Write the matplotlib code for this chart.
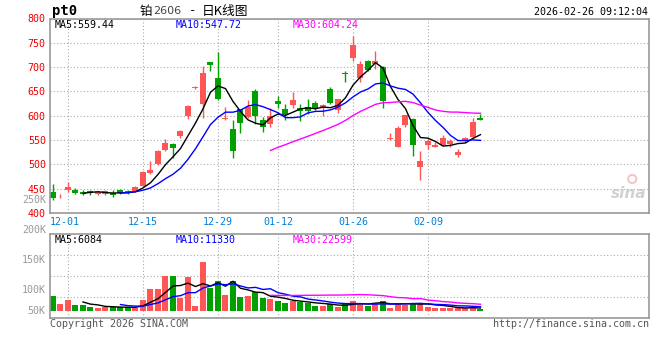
import numpy as np
import pandas as pd
import matplotlib
matplotlib.use('Agg')
import matplotlib.pyplot as plt

# daily candles, 2025-11-27 .. 2026-02-26 (58 trading days)
opens = [443, 436, 447, 448, 444, 445, 438.5, 440, 442, 446.5,
         446, 445, 456, 482, 500, 529.5, 542, 559, 599, 657.5,
         625, 711, 678, 593, 572.5, 613, 597.5, 650.5, 591.5, 584,
         630, 614.5, 622, 616.5, 618.5, 627, 616.5, 656, 611, 687.5,
         718.5, 678, 713, 706.5, 699.5, 552.5, 536.5, 581.5, 594, 495.5,
         540, 536.5, 540.5, 542, 520, 550, 555.5, 595.5]
highs = [460, 440, 464, 451, 447, 447, 445, 447, 447, 448.5,
         448, 455.5, 486, 506.5, 530, 552, 544, 570.5, 622, 661,
         702, 711.5, 731, 617, 591, 613.5, 631.5, 654, 597.5, 616.5,
         640.5, 623.5, 649, 625, 635, 631, 625, 659.5, 635, 691.5,
         763, 712, 715, 733.5, 703, 563.5, 578, 601, 594.5, 528,
         552, 545, 560, 552, 531.5, 555.5, 595, 603]
lows = [426, 430, 443, 440, 438, 438, 437, 438, 432, 438.5,
        440, 443, 455, 480.5, 498, 528, 513, 553.5, 593, 654,
        596, 693, 632, 591, 513, 565.5, 595, 582.5, 567.5, 576,
        616.5, 591, 616.5, 589.5, 603, 611, 600, 623.5, 606.5, 669,
        712, 669, 693, 696.5, 615.5, 550.5, 536, 577, 518, 467,
        531.5, 535, 538.5, 535, 514.5, 545, 554, 591.5]
closes = [430, 437, 453, 442, 440, 440.5, 443, 445, 436.5, 442,
          442, 453.5, 484, 489, 528, 543, 534, 569, 620.5, 659,
          688, 705, 634, 593.5, 527, 585, 618, 600, 576, 600,
          623.5, 604.5, 633, 610, 610, 614.5, 621.5, 627, 635, 686.5,
          744.5, 706.5, 695, 713.5, 630.5, 554, 574.5, 601, 540, 506.5,
          547.5, 540.5, 553.5, 547.5, 525, 553.5, 588, 591.5]
volumes_k = [90, 76.7, 83.3, 75, 75, 72.2, 70, 71.1, 72, 72.2,
             71, 69.4, 83.3, 101.7, 101.7, 123.3, 123.3, 87.2, 121.7, 73.3,
             147.2, 103.9, 115, 91.7, 115, 88.9, 90, 96.7, 87.2, 85,
             81.7, 78.9, 81.7, 80, 78.3, 73.9, 73.9, 76.1, 72.2, 76.7,
             81.7, 78.9, 73.9, 78.9, 81.7, 70.6, 78.9, 75, 78.9, 78.9,
             72.2, 70.6, 70.6, 70.6, 69.4, 69.4, 72.2, 68.3]

date_ticks = [2, 12, 22, 30, 40, 50]
date_labels = ['12-01', '12-15', '12-29', '01-12', '01-26', '02-09']
price_ticks = [400, 450, 500, 550, 600, 650, 700, 750, 800]
vol_tick_vals = [65, 100, 150, 200]
vol_tick_labels = ['50K', '100K', '150K', '200K']
price_ma_labels = ['MA5:559.44', 'MA10:547.72', 'MA30:604.24']
vol_ma_labels = ['MA5:6084', 'MA10:11330', 'MA30:22599']

RED = '#ff5555'
GREEN = '#00a000'
BORDER = '#999999'
MONO = 'DejaVu Sans Mono'
CJK = ['Noto Sans CJK SC', 'DejaVu Sans']
MA_COLORS = ['black', '#0000ff', '#ff00ff']

o = np.array(opens)
h = np.array(highs)
l = np.array(lows)
c = np.array(closes)
v = np.array(volumes_k)
x = np.arange(len(c))
cols = [RED if cc >= oo else GREEN for oo, cc in zip(o, c)]

W, H = 660, 360
fig = plt.figure(figsize=(6.6, 3.6), dpi=100)
fig.patch.set_facecolor('white')


def px_axes(left, top, right, bottom):
    return fig.add_axes([left / W, 1 - bottom / H, (right - left) / W, (bottom - top) / H])


def style(ax):
    for s in ax.spines.values():
        s.set_color(BORDER)
        s.set_linewidth(1.2)
    ax.tick_params(length=0)
    ax.grid(True, color='#aaaaaa', linestyle=(0, (1, 2)), linewidth=0.8)
    ax.set_axisbelow(True)


xlim = (-0.4, 79.47)
label_x = [0.0085, 0.209, 0.405]

# ---- price panel ----
ax = px_axes(50, 18.5, 649, 213)
style(ax)
ax.set_xlim(*xlim)
ax.set_ylim(400, 800)
ax.set_yticks(price_ticks)
ax.set_yticklabels([str(t) for t in price_ticks], color='#ee0000', fontsize=7.2, family=MONO)
ax.tick_params(axis='y', pad=3)
ax.set_xticks(date_ticks)
ax.set_xticklabels([])
# date labels (first one is pushed right against the left border)
for k, (t, lab) in enumerate(zip(date_ticks, date_labels)):
    ax.text(xlim[0] if k == 0 else t, -0.022, lab, transform=ax.get_xaxis_transform(),
            color='#0080d8', fontsize=7.2, family=MONO, va='top',
            ha='left' if k == 0 else 'center')

ax.vlines(x, l, h, colors=cols, linewidth=1)
body = np.maximum(np.abs(c - o), 2)
ax.bar(x, body, bottom=np.minimum(o, c), width=0.8, color=cols, linewidth=0)

cs = pd.Series(c)
for n, col in zip([5, 10, 30], MA_COLORS):
    ax.plot(x, cs.rolling(n).mean(), color=col, lw=1)
for lab, lx, col in zip(price_ma_labels, label_x, MA_COLORS):
    ax.text(lx, 0.965, lab, transform=ax.transAxes, color=col,
            fontsize=7.2, family=MONO, va='center')

ax.text(-0.007, 426.7, '250K', transform=ax.get_yaxis_transform(), color='#999999',
        fontsize=7.2, family=MONO, ha='right', va='center', clip_on=False)
# sina watermark
ax.text(0.995, 0.1, 'sina', transform=ax.transAxes, color='#cccccc', fontsize=11,
        style='italic', fontweight='bold', ha='right', va='center', alpha=0.9)
ax.scatter([0.972], [0.175], s=35, transform=ax.transAxes, facecolors='none',
           edgecolors='#f4b8b8', linewidths=1.5, alpha=0.8)

# ---- volume panel ----
vlo, vhi = 52.8, 192.8
av = px_axes(50, 234.3, 649, 318.3)
style(av)
av.set_xlim(*xlim)
av.set_ylim(vlo, vhi)
av.set_xticks(date_ticks)
av.set_xticklabels([])
av.set_yticks(np.linspace(vlo, vhi, 5)[1:-1])
av.set_yticklabels([])
base = 65
av.bar(x, v - base, bottom=base, width=0.8, color=cols, linewidth=0)
vs = pd.Series(v)
for n, col in zip([5, 10, 30], MA_COLORS):
    av.plot(x, vs.rolling(n).mean(), color=col, lw=1)
for val, lab in zip(vol_tick_vals, vol_tick_labels):
    av.text(-0.007, val, lab, transform=av.get_yaxis_transform(), color='#999999',
            fontsize=7.2, family=MONO, ha='right', va='center', clip_on=False)
for lab, lx, col in zip(vol_ma_labels, label_x, MA_COLORS):
    av.text(lx, 0.93, lab, transform=av.transAxes, color=col,
            fontsize=7.2, family=MONO, va='center')

# ---- header / footer text ----
fig.text(52 / W, 1 - 11 / H, 'pt0', fontsize=10, fontweight='bold', family=MONO, va='center')
fig.text(140 / W, 1 - 11 / H, '铂', fontsize=9, family=CJK, va='center')
fig.text(153 / W, 1 - 11 / H, '2606', fontsize=8, family='DejaVu Sans', color='#444444',
         va='center')
fig.text(193 / W, 1 - 11 / H, '-', fontsize=9, family=MONO, ha='center', va='center')
fig.text(202 / W, 1 - 11 / H, '日K线图', fontsize=9.2, family=CJK, va='center')
fig.text(648 / W, 1 - 12 / H, '2026-02-26 09:12:04', fontsize=7.2, family=MONO,
         ha='right', va='center')
fig.text(50 / W, 1 - 324 / H, 'Copyright 2026 SINA.COM', fontsize=7.2, family=MONO,
         color='#555555', va='center')
fig.text(649 / W, 1 - 324 / H, 'http://finance.sina.com.cn', fontsize=7.2, family=MONO,
         color='#555555', ha='right', va='center')

fig.savefig('out.png', dpi=100)
